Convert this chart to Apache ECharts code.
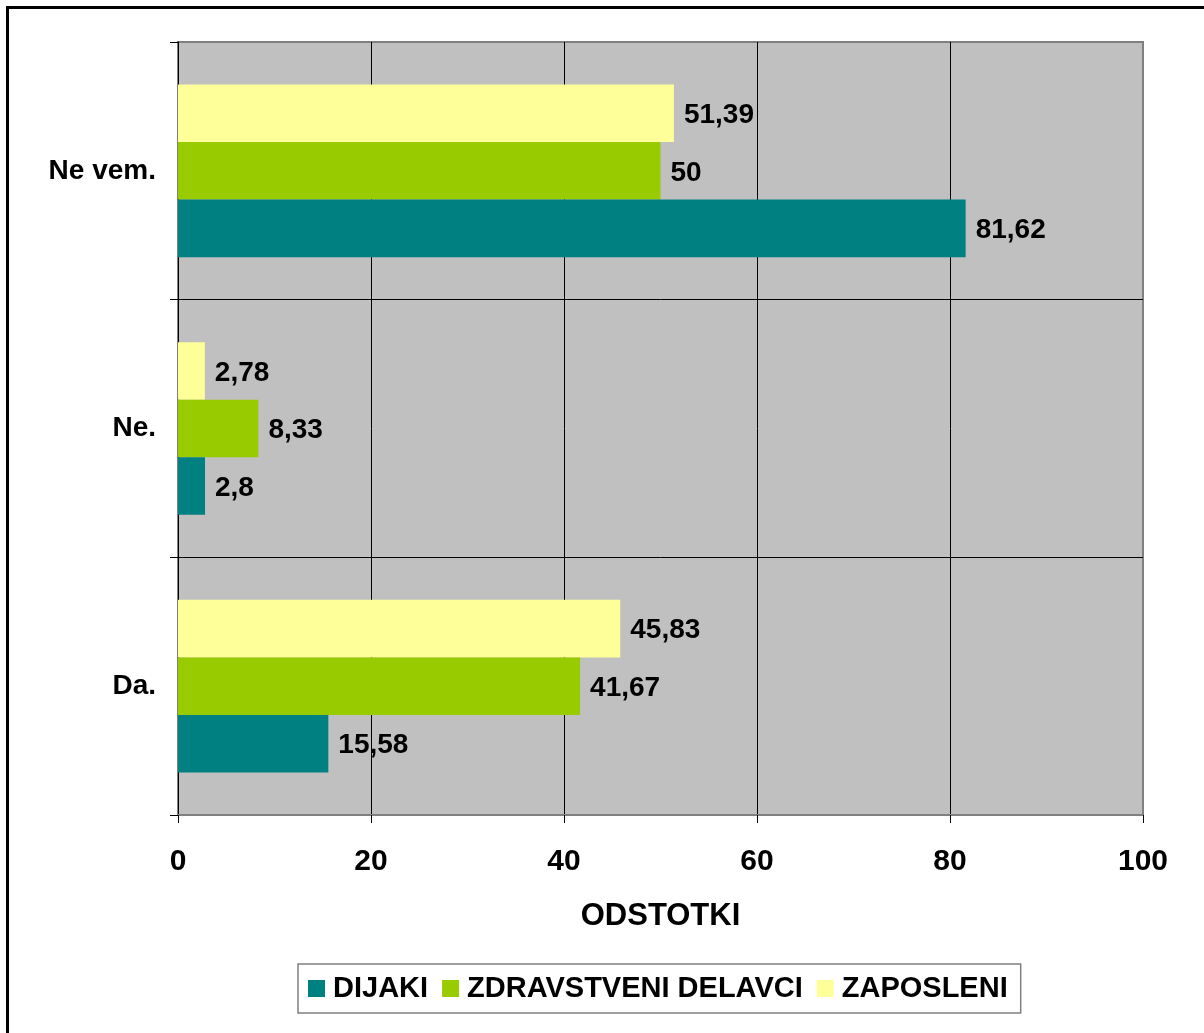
<!DOCTYPE html>
<head>
    <meta charset="utf-8">
    <title>ODSTOTKI</title>
</head>
<body style="margin:0;background:#fff">
    <div id="main" style="width:1204px;height:1033px"></div>
    <script src="https://cdn.jsdelivr.net/npm/echarts@6/dist/echarts.min.js"></script>
    <script type="text/javascript">
        // kategorije (od spodaj navzgor)
        var categories = ['Da.', 'Ne.', 'Ne vem.'];
        var dijaki = [15.58, 2.8, 81.62];
        var zdravstveni = [41.67, 8.33, 50];
        var zaposleni = [45.83, 2.78, 51.39];
        var xTicks = [0, 20, 40, 60, 80, 100];

        var font = 'Liberation Sans, Arial, sans-serif';

        function fmt(p) {
            return String(p.value).replace('.', ',');
        }

        function barSeries(name, data, color) {
            return {
                name: name,
                type: 'bar',
                data: data,
                barGap: 0,
                barCategoryGap: '33%',
                itemStyle: { color: color },
                label: {
                    show: true,
                    position: 'right',
                    distance: 10,
                    offset: [0, 2],
                    formatter: fmt,
                    color: '#000',
                    fontFamily: font,
                    fontWeight: 'bold',
                    fontSize: 28
                }
            };
        }

        var myChart = echarts.init(document.getElementById('main'));

        var option = {
            animation: false,
            backgroundColor: '#fff',
            textStyle: { fontFamily: font },
            graphic: [{
                type: 'rect',
                shape: { x: 7.5, y: 7.5, width: 1300, height: 1100 },
                style: { fill: 'none', stroke: '#000', lineWidth: 3 },
                silent: true
            }],
            grid: {
                left: 178, top: 42, width: 965, height: 773,
                show: true,
                backgroundColor: '#C0C0C0',
                borderColor: '#808080',
                borderWidth: 2
            },
            legend: {
                left: 298,
                top: 964,
                itemWidth: 17,
                itemHeight: 17,
                itemGap: 14,
                icon: 'rect',
                padding: [10, 13, 10, 10],
                borderColor: '#808080',
                borderWidth: 1.5,
                data: ['DIJAKI', 'ZDRAVSTVENI DELAVCI', 'ZAPOSLENI'],
                textStyle: {
                    color: '#000',
                    fontFamily: font,
                    fontWeight: 'bold',
                    fontSize: 29,
                    padding: [0, 0, 0, 3]
                }
            },
            xAxis: {
                type: 'value',
                min: xTicks[0],
                max: xTicks[xTicks.length - 1],
                interval: 20,
                name: 'ODSTOTKI',
                nameLocation: 'middle',
                nameGap: 86,
                nameTextStyle: { color: '#000', fontFamily: font, fontWeight: 'bold', fontSize: 31 },
                axisLine: { show: true, lineStyle: { color: '#808080', width: 2 } },
                axisTick: { show: true, length: 8, lineStyle: { color: '#000' } },
                axisLabel: { color: '#000', fontFamily: font, fontWeight: 'bold', fontSize: 30, margin: 32 },
                splitLine: { show: true, showMinLine: false, showMaxLine: false, lineStyle: { color: '#000', width: 1 } }
            },
            yAxis: {
                type: 'category',
                data: categories,
                axisLine: { show: true, lineStyle: { color: '#000', width: 1 } },
                axisTick: { show: true, length: 8, lineStyle: { color: '#000' } },
                axisLabel: { color: '#000', fontFamily: font, fontWeight: 'bold', fontSize: 28, margin: 22 },
                splitLine: { show: true, showMinLine: false, showMaxLine: false, lineStyle: { color: '#000', width: 1 } }
            },
            // prva serija je na vrhu skupine, zato obrnjen vrstni red
            series: [
                barSeries('ZAPOSLENI', zaposleni, '#FFFF99'),
                barSeries('ZDRAVSTVENI DELAVCI', zdravstveni, '#99CC00'),
                barSeries('DIJAKI', dijaki, '#008080')
            ]
        };

        myChart.setOption(option);
    </script>
</body>
